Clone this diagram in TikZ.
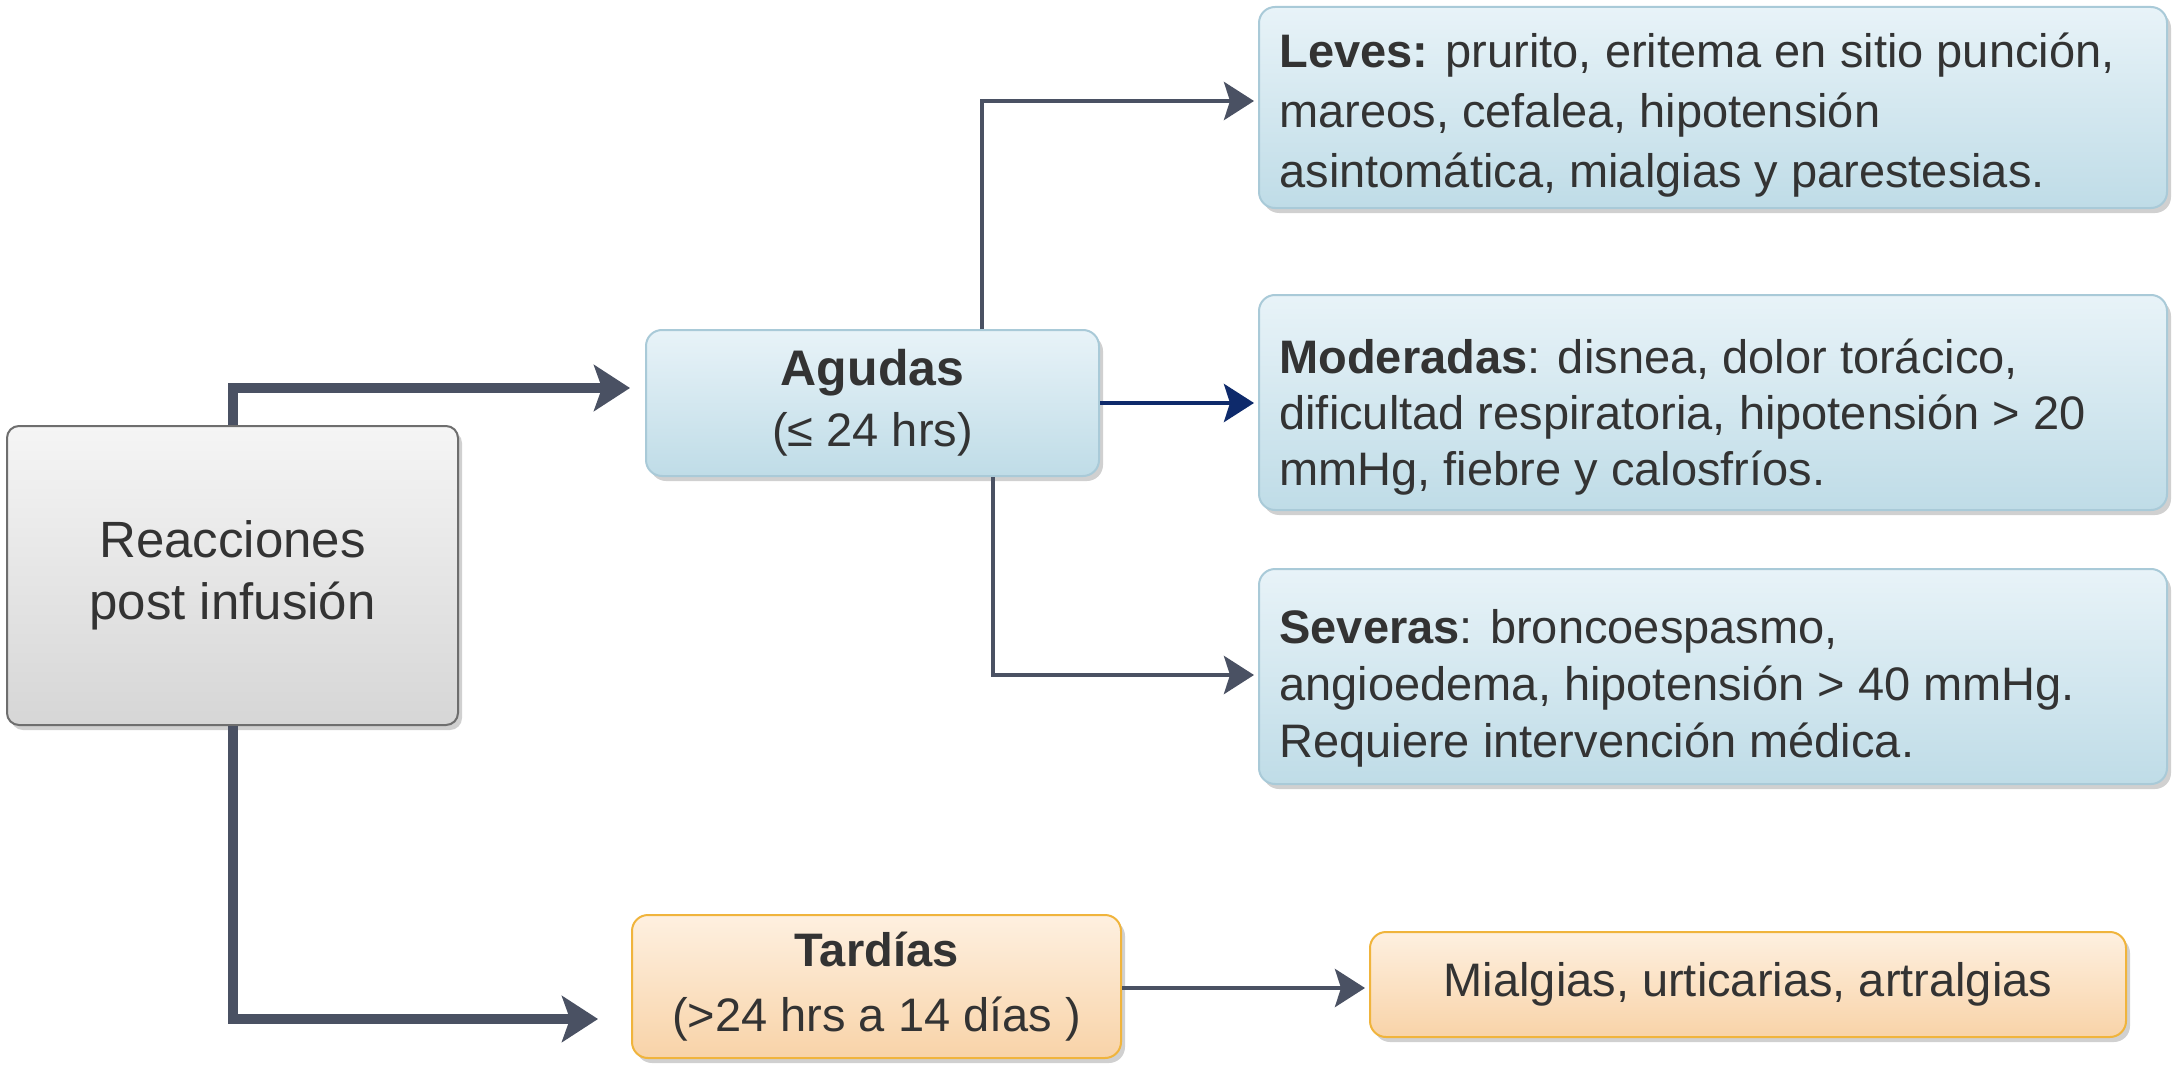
\documentclass[tikz,border=0pt]{standalone}
\usepackage{fontspec}
\setmainfont{Liberation Sans}
\usetikzlibrary{arrows.meta,shadows,calc}
\definecolor{linegray}{HTML}{4A5163}
\definecolor{navy}{HTML}{0E2A6B}
\definecolor{txt}{HTML}{333333}
\definecolor{bluetop}{HTML}{E8F3F8}
\definecolor{bluebot}{HTML}{BFDCE7}
\definecolor{blueedge}{HTML}{A9CAD8}
\definecolor{greytop}{HTML}{F5F5F5}
\definecolor{greybot}{HTML}{D6D6D6}
\definecolor{greyedge}{HTML}{6E6E6E}
\definecolor{orangetop}{HTML}{FEF0E0}
\definecolor{orangebot}{HTML}{F8D3A8}
\definecolor{orangeedge}{HTML}{F0B43C}
\tikzset{
  boxbase/.style={rounded corners=8pt, line width=1pt, inner sep=0pt,
    drop shadow={shadow xshift=2pt, shadow yshift=-2.5pt, opacity=0.3, fill=black!60},
    text=txt, align=center},
  bluebox/.style={boxbase, draw=blueedge, top color=bluetop, bottom color=bluebot},
  greybox/.style={boxbase, rounded corners=6pt, draw=greyedge, top color=greytop, bottom color=greybot},
  orangebox/.style={boxbase, draw=orangeedge, top color=orangetop, bottom color=orangebot},
  bodytext/.style={text=txt, align=left, inner sep=0pt, anchor=west},
  thickarrow/.style={draw=linegray, line width=5pt, -{Stealth[length=18pt,width=23pt,inset=4pt]}},
  thinarrow/.style={draw=linegray, line width=2.3pt, -{Stealth[length=15pt,width=19pt,inset=3pt]}},
  navyarrow/.style={draw=navy, line width=2.3pt, -{Stealth[length=15pt,width=19pt,inset=3pt]}},
}
\begin{document}
\begin{tikzpicture}[x=0.5pt,y=-0.5pt]
\useasboundingbox[fill=white] (0,0) rectangle (2175,1070);

% boxes
\node[greybox, minimum width=225.5pt, minimum height=149.5pt,
  font=\fontsize{25.5}{31}\selectfont] (main) at (232.5,575.5) {Reacciones\\post infusión};
\node[bluebox, minimum width=226.5pt, minimum height=73pt,
  font=\fontsize{23.5}{30.5}\selectfont] (agudas) at (872.5,403)
  {{\fontsize{25}{30.5}\selectfont\bfseries Agudas}\\(≤ 24 hrs)};
\node[bluebox, minimum width=454pt, minimum height=100.5pt] (leves) at (1713,107.5) {};
\node[bluebox, minimum width=454pt, minimum height=107.5pt] (moderadas) at (1713,402.5) {};
\node[bluebox, minimum width=454pt, minimum height=107.5pt] (severas) at (1713,676.5) {};
\node[orangebox, minimum width=244.5pt, minimum height=71.5pt,
  font=\fontsize{23.5}{32.5}\selectfont] (tardias) at (876.5,986.5)
  {\textbf{Tardías}\\(>24 hrs a 14 días )};
\node[orangebox, minimum width=378pt, minimum height=52.5pt,
  font=\fontsize{23.5}{30}\selectfont] (mialgias) at (1748,984.5) {Mialgias, urticarias, artralgias};

% texts inside the right boxes
\node[bodytext, font=\fontsize{23.5}{30}\selectfont] (levestxt) at (1279,115)
  {\textbf{Leves:} prurito, eritema en sitio punción,\\mareos, cefalea, hipotensión\\asintomática, mialgias y parestesias.};
\node[bodytext, font=\fontsize{23.5}{28}\selectfont] (modtxt) at (1279,417)
  {\textbf{Moderadas}: disnea, dolor torácico,\\dificultad respiratoria, hipotensión > 20\\mmHg, fiebre y calosfríos.};
\node[bodytext, font=\fontsize{23.5}{28.5}\selectfont] (sevtxt) at (1279,688)
  {\textbf{Severas}: broncoespasmo,\\angioedema, hipotensión > 40 mmHg.\\Requiere intervención médica.};

% helper coordinates
\coordinate (yup) at (0,388);
\coordinate (ylow) at (0,1019);
\coordinate (xl) at (982,0);
\coordinate (yl) at (0,101);
\coordinate (xs) at (993,0);
\coordinate (ys) at (0,675);
\coordinate (yt) at (0,988);

% connectors
\draw[thickarrow] (main.north) |- ([xshift=-7.5pt]agudas.west |- yup);
\draw[thickarrow] (main.south) |- ([xshift=-16.5pt]tardias.west |- ylow);
\draw[thinarrow] (agudas.north -| xl) |- ([xshift=-2pt]leves.west |- yl);
\draw[navyarrow] (agudas.east) -- ([xshift=-2pt]moderadas.west |- agudas.east);
\draw[thinarrow] (agudas.south -| xs) |- ([xshift=-2pt]severas.west |- ys);
\draw[thinarrow] (tardias.east |- yt) -- ([xshift=-2pt]mialgias.west |- yt);
\end{tikzpicture}
\end{document}
